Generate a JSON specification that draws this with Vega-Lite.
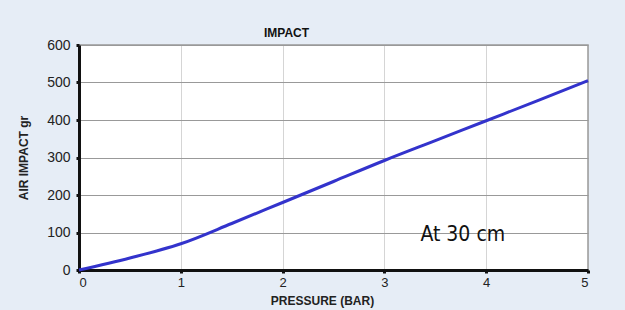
{
  "$schema": "https://vega.github.io/schema/vega-lite/v6.json",
  "width": 509,
  "height": 225,
  "autosize": {"type": "none"},
  "padding": {"left": 79, "top": 45, "right": 37, "bottom": 40},
  "background": "#e6edf6",
  "title": {"text": "IMPACT", "font": "Liberation Sans", "fontSize": 12, "fontWeight": "bold", "color": "#111111", "anchor": "middle", "dx": -47, "offset": -2},
  "config": {
    "view": {"stroke": "#999999", "strokeWidth": 1.5, "fill": "white"},
    "axis": {"labelFont": "Liberation Sans", "titleFont": "Liberation Sans", "labelColor": "#222222", "titleColor": "#222222", "labelOverlap": false}
  },
  "datasets": {
    "curve": [
      {"pressure": 0, "impact": 0},
      {"pressure": 0.5, "impact": 32},
      {"pressure": 1, "impact": 70},
      {"pressure": 1.5, "impact": 124},
      {"pressure": 2, "impact": 180},
      {"pressure": 2.5, "impact": 236},
      {"pressure": 3, "impact": 292},
      {"pressure": 3.5, "impact": 345},
      {"pressure": 4, "impact": 398},
      {"pressure": 4.5, "impact": 451},
      {"pressure": 5, "impact": 505}
    ],
    "note": [{"pressure": 3.77, "impact": 93, "label": "At 30 cm"}]
  },
  "encoding": {
    "x": {"field": "pressure", "type": "quantitative", "scale": {"domain": [0, 5], "nice": false},
      "axis": {"title": "PRESSURE (BAR)", "titleFontSize": 12, "titleFontWeight": "bold", "titleX": 243, "titlePadding": 6,
        "values": [0, 1, 2, 3, 4, 5], "format": "d", "labelFontSize": 13, "labelPadding": 3,
        "domainColor": "#111111", "domainWidth": 3, "tickColor": "#111111", "tickWidth": 3, "tickSize": 3,
        "grid": true, "gridColor": "#aaaaaa", "gridDash": [1, 1], "gridWidth": 1}},
    "y": {"field": "impact", "type": "quantitative", "scale": {"domain": [0, 600], "nice": false},
      "axis": {"title": "AIR IMPACT gr", "titleFontSize": 12, "titleFontWeight": "bold", "titlePadding": 16,
        "values": [0, 100, 200, 300, 400, 500, 600], "labelFontSize": 14, "labelPadding": 6,
        "domainColor": "#111111", "domainWidth": 3, "tickColor": "#111111", "tickWidth": 3, "tickSize": 3,
        "grid": true, "gridColor": "#999999", "gridWidth": 1.2}}
  },
  "layer": [
    {
      "data": {"name": "curve"},
      "mark": {"type": "line", "color": "#3333cc", "strokeWidth": 3, "interpolate": "monotone"}
    },
    {
      "data": {"name": "note"},
      "mark": {"type": "text", "font": "'Liberation Sans Narrow', 'DejaVu Sans Condensed', 'Liberation Sans', sans-serif", "fontSize": 21, "color": "#111111", "align": "center", "baseline": "middle"},
      "encoding": {"text": {"field": "label"}}
    }
  ]
}
